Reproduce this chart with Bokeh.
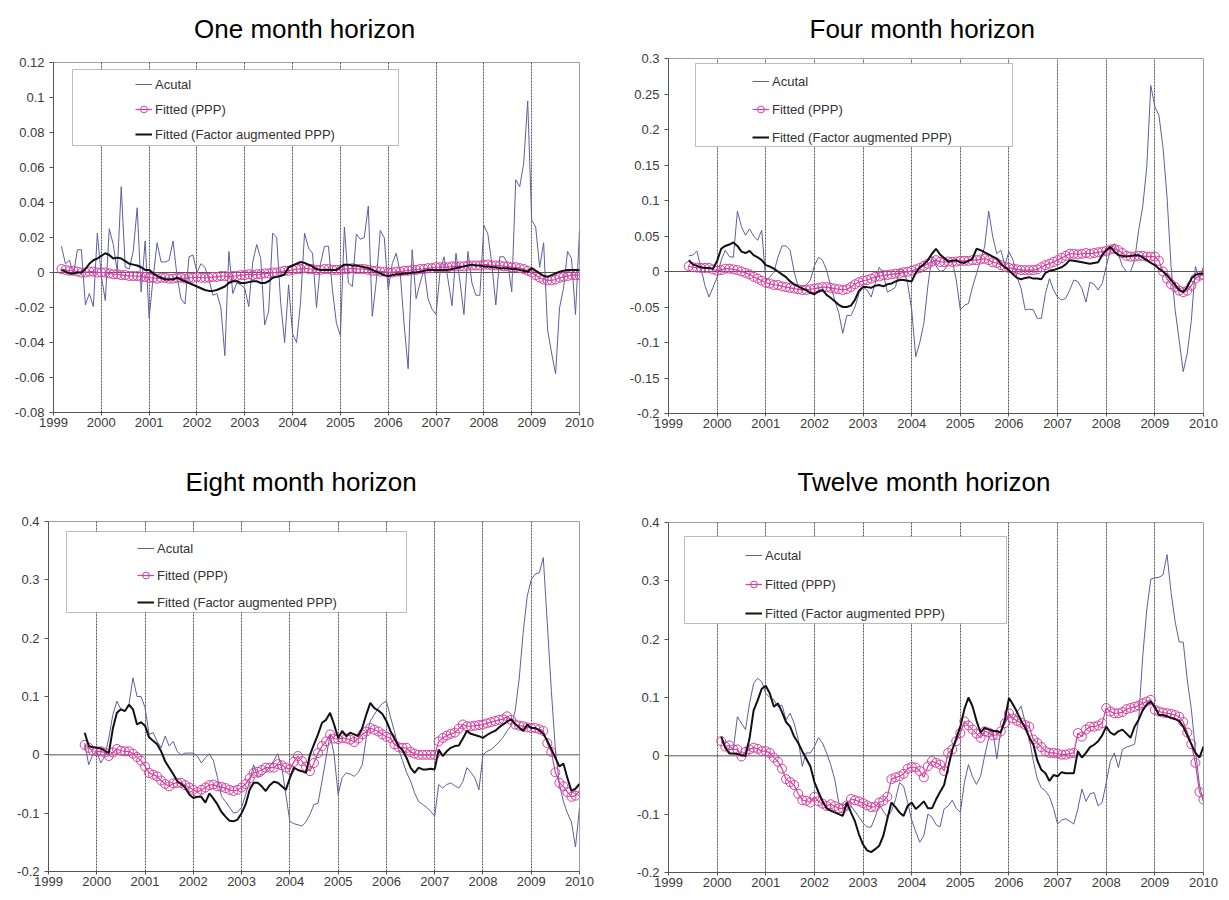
from bokeh.plotting import figure
from bokeh.models import (Range1d, FixedTicker, CustomJSTickFormatter, Span, Legend,
                          LegendItem, BoxAnnotation)
from bokeh.core.properties import value
from bokeh.layouts import column, row
from bokeh.embed import file_html
from bokeh.resources import INLINE

# ---------------- data ----------------
YEAR_TICKS = [1999, 2000, 2001, 2002, 2003, 2004, 2005, 2006, 2007, 2008, 2009, 2010]
GRID_YEARS = [2000, 2001, 2002, 2003, 2004, 2005, 2006, 2007, 2008, 2009, 2010]
SERIES_NAMES = ["Acutal", "Fitted (PPP)", "Fitted (Factor augmented PPP)"]
TITLES = ["One month horizon", "Four month horizon", "Eight month horizon", "Twelve month horizon"]

Y_TICKS_ONE = [-0.08, -0.06, -0.04, -0.02, 0, 0.02, 0.04, 0.06, 0.08, 0.1, 0.12]
Y_TICKS_FOUR = [-0.2, -0.15, -0.1, -0.05, 0, 0.05, 0.1, 0.15, 0.2, 0.25, 0.3]
Y_TICKS_EIGHT = [-0.2, -0.1, 0, 0.1, 0.2, 0.3, 0.4]
Y_TICKS_TWELVE = [-0.2, -0.1, 0, 0.1, 0.2, 0.3, 0.4]

# first month of each series, counted in months from January 1999
ONE_START = 2
FOUR_START = 5
EIGHT_START = 9
TWELVE_START = 13

ONE_ACTUAL = [
    0.015, 0.005, 0.007, -0.001, 0.013, 0.013, -0.0185, -0.012, -0.0195, 0.0225,
    -0.002, -0.016, 0.025, 0.016, 0.0005, 0.049, 0.003, 0.002, 0.012, 0.037,
    -0.011, 0.018, -0.026, -0.003, 0.017, 0.006, 0.006, 0.007, 0.018, -0.002,
    -0.015, -0.018, 0.009, 0.010, 0.0, 0.005, 0.003, -0.004, -0.013, -0.012,
    -0.020, -0.0475, 0.012, -0.012, -0.006, -0.007, -0.009, -0.0195, 0.006, 0.016,
    0.008, -0.030, -0.022, 0.0225, 0.020, -0.017, -0.040, -0.007, -0.035, -0.040,
    -0.017, 0.0225, 0.014, 0.011, -0.02, 0.005, 0.015, 0.015, -0.010, -0.029,
    -0.036, 0.026, -0.006, -0.008, 0.022, 0.019, 0.020, 0.038, -0.025, -0.005,
    0.024, 0.020, -0.010, 0.005, 0.011, 0.000, -0.030, -0.055, 0.013, -0.015,
    -0.006, 0.002, -0.015, -0.021, -0.024, 0.000, 0.009, -0.004, -0.019, 0.011,
    -0.005, -0.024, 0.012, -0.006, -0.013, -0.013, 0.027, 0.022, 0.005, -0.0185,
    0.009, 0.009, 0.005, -0.011, 0.053, 0.049, 0.0625, 0.098, 0.030, 0.026,
    0.003, 0.017, -0.033, -0.046, -0.058, -0.020, -0.009, 0.012, 0.008, -0.024, 0.024]
ONE_PPP = [
    0.002, 0.0015, 0.001, 0.001, 0.0005, 0.0, 0.0, 0.0005, 0.0005, 0.0,
    0.0, 0.0, -0.0005, -0.001, -0.001, -0.0015, -0.0015, -0.002, -0.002, -0.002,
    -0.0025, -0.0025, -0.003, -0.003, -0.0035, -0.003, -0.003, -0.0035, -0.0035, -0.003,
    -0.003, -0.0035, -0.003, -0.003, -0.0025, -0.003, -0.003, -0.003, -0.0025, -0.0025,
    -0.002, -0.002, -0.0025, -0.002, -0.002, -0.0015, -0.0015, -0.001, -0.0015, -0.001,
    -0.001, -0.0005, -0.0005, 0.0, 0.0, 0.0005, 0.001, 0.001, 0.0015, 0.002,
    0.002, 0.0025, 0.002, 0.002, 0.0015, 0.0015, 0.002, 0.002, 0.0015, 0.0015,
    0.0015, 0.002, 0.002, 0.0025, 0.002, 0.002, 0.002, 0.0015, 0.001, 0.001,
    0.0005, 0.0005, 0.0, 0.0, 0.0005, 0.0005, 0.001, 0.001, 0.0015, 0.0015,
    0.002, 0.002, 0.0025, 0.0025, 0.003, 0.003, 0.003, 0.003, 0.0035, 0.0035,
    0.0035, 0.0035, 0.004, 0.004, 0.004, 0.004, 0.0045, 0.0045, 0.004, 0.004,
    0.004, 0.0035, 0.0035, 0.003, 0.003, 0.0025, 0.002, 0.001, 0.0, -0.0015,
    -0.003, -0.004, -0.0045, -0.0045, -0.004, -0.003, -0.0025, -0.002, -0.0015, -0.0015, -0.0015]
ONE_FA = [
    0.0015, 0.0005, -0.0005, -0.0005, 0.0, 0.0, 0.002, 0.005, 0.007, 0.008,
    0.0095, 0.011, 0.010, 0.008, 0.0085, 0.008, 0.0065, 0.005, 0.0045, 0.004,
    0.003, 0.0015, 0.0015, -0.0005, -0.002, -0.003, -0.004, -0.004, -0.004, -0.003,
    -0.004, -0.005, -0.006, -0.007, -0.008, -0.009, -0.010, -0.0105, -0.0105, -0.010,
    -0.009, -0.008, -0.006, -0.005, -0.005, -0.006, -0.006, -0.0055, -0.005, -0.005,
    -0.006, -0.006, -0.005, -0.003, -0.0025, -0.002, -0.001, 0.003, 0.004, 0.005,
    0.006, 0.0055, 0.0045, 0.0035, 0.002, 0.0015, 0.0015, 0.0015, 0.0015, 0.0015,
    0.003, 0.0045, 0.0045, 0.004, 0.004, 0.0035, 0.003, 0.0025, 0.0015, 0.0005,
    -0.0005, -0.0015, -0.002, -0.0015, -0.001, -0.001, -0.0005, -0.0005, 0.0, 0.0,
    0.0005, 0.001, 0.0015, 0.0015, 0.0015, 0.0015, 0.0015, 0.0015, 0.002, 0.0025,
    0.003, 0.0035, 0.004, 0.0045, 0.004, 0.004, 0.0035, 0.0035, 0.003, 0.003,
    0.0025, 0.0025, 0.0025, 0.002, 0.002, 0.0015, 0.001, 0.0005, 0.0025, 0.001,
    -0.0005, -0.002, -0.0025, -0.0015, -0.0005, 0.0005, 0.001, 0.0015, 0.0015, 0.0015, 0.0015]

FOUR_ACTUAL = [
    0.022, 0.023, 0.029, 0.005, -0.020, -0.036, -0.022, -0.008, 0.016, 0.030,
    0.021, 0.020, 0.085, 0.063, 0.051, 0.060, 0.050, 0.044, 0.058, -0.012,
    -0.008, -0.001, 0.020, 0.036, 0.036, 0.030, 0.000, -0.022, -0.022, -0.019,
    -0.012, 0.008, 0.020, 0.016, 0.002, -0.020, -0.040, -0.058, -0.087, -0.062,
    -0.062, -0.050, -0.031, -0.022, -0.026, -0.036, -0.017, 0.006, -0.003, -0.029,
    -0.026, -0.022, 0.004, 0.002, -0.017, -0.054, -0.120, -0.100, -0.073, -0.020,
    0.021, 0.008, 0.000, 0.002, 0.010, 0.016, -0.012, -0.054, -0.048, -0.045,
    -0.022, -0.003, 0.016, 0.035, 0.085, 0.049, 0.025, 0.030, 0.009, 0.028,
    0.016, -0.008, -0.024, -0.054, -0.053, -0.054, -0.066, -0.066, -0.031, -0.010,
    -0.026, -0.036, -0.040, -0.038, -0.026, -0.012, -0.014, -0.024, -0.043, -0.015,
    -0.018, -0.026, -0.017, 0.007, 0.030, 0.039, 0.025, 0.007, 0.000, 0.000,
    0.016, 0.058, 0.091, 0.147, 0.262, 0.232, 0.220, 0.175, 0.105, 0.007,
    -0.054, -0.097, -0.141, -0.115, -0.069, 0.007, -0.010, 0.007]
FOUR_PPP = [
    0.0075, 0.006, 0.0055, 0.005, 0.005, 0.005, 0.003, 0.001, 0.002, 0.004,
    0.004, 0.003, 0.002, 0.0, -0.002, -0.004, -0.0075, -0.010, -0.013, -0.016,
    -0.017, -0.019, -0.019, -0.021, -0.022, -0.023, -0.024, -0.025, -0.026, -0.026,
    -0.025, -0.024, -0.023, -0.022, -0.022, -0.023, -0.024, -0.025, -0.026, -0.025,
    -0.022, -0.018, -0.015, -0.013, -0.012, -0.010, -0.0075, -0.007, -0.005, -0.005,
    -0.004, -0.003, -0.003, -0.001, -0.0005, 0.001, 0.003, 0.005, 0.008, 0.011,
    0.014, 0.016, 0.0135, 0.013, 0.014, 0.0135, 0.014, 0.015, 0.015, 0.015,
    0.016, 0.016, 0.017, 0.018, 0.016, 0.013, 0.012, 0.009, 0.0065, 0.005,
    0.004, 0.003, 0.002, 0.002, 0.002, 0.002, 0.003, 0.006, 0.009, 0.011,
    0.0135, 0.016, 0.019, 0.022, 0.025, 0.025, 0.024, 0.025, 0.026, 0.025,
    0.026, 0.027, 0.028, 0.029, 0.031, 0.032, 0.030, 0.026, 0.022, 0.021,
    0.021, 0.022, 0.022, 0.021, 0.021, 0.021, 0.015, 0.000, -0.010, -0.018,
    -0.022, -0.027, -0.029, -0.027, -0.020, -0.010, -0.006, -0.005]
FOUR_FA = [
    0.016, 0.010, 0.008, 0.006, 0.005, 0.005, 0.004, 0.015, 0.032, 0.036,
    0.038, 0.041, 0.036, 0.028, 0.026, 0.029, 0.023, 0.020, 0.016, 0.009,
    0.007, 0.004, 0.000, -0.004, -0.008, -0.014, -0.018, -0.021, -0.024, -0.026,
    -0.030, -0.032, -0.028, -0.026, -0.033, -0.037, -0.042, -0.047, -0.050, -0.050,
    -0.048, -0.040, -0.027, -0.022, -0.022, -0.023, -0.020, -0.019, -0.021, -0.018,
    -0.017, -0.014, -0.012, -0.012, -0.013, -0.014, -0.002, 0.006, 0.010, 0.016,
    0.025, 0.032, 0.024, 0.019, 0.014, 0.015, 0.016, 0.013, 0.012, 0.015,
    0.018, 0.032, 0.030, 0.027, 0.024, 0.021, 0.018, 0.011, 0.006, 0.002,
    -0.004, -0.009, -0.011, -0.009, -0.008, -0.010, -0.010, -0.011, -0.002, 0.001,
    0.002, 0.004, 0.006, 0.010, 0.016, 0.015, 0.014, 0.013, 0.012, 0.011,
    0.012, 0.013, 0.023, 0.030, 0.035, 0.028, 0.023, 0.022, 0.021, 0.022,
    0.023, 0.023, 0.020, 0.016, 0.012, 0.009, 0.004, 0.0, -0.005, -0.012,
    -0.019, -0.026, -0.029, -0.022, -0.010, -0.005, -0.003, -0.003]

EIGHT_ACTUAL = [
    0.020, -0.017, 0.000, 0.006, -0.014, -0.002, 0.029, 0.069, 0.092, 0.078,
    0.075, 0.086, 0.132, 0.100, 0.100, 0.081, 0.035, 0.038, 0.023, 0.012,
    0.032, 0.015, 0.023, 0.006, 0.000, 0.003, 0.003, 0.003, -0.002, -0.014,
    -0.005, 0.002, -0.010, -0.039, -0.071, -0.080, -0.090, -0.100, -0.098, -0.090,
    -0.068, -0.045, -0.017, -0.039, -0.036, -0.030, -0.020, -0.010, 0.002, -0.022,
    -0.068, -0.114, -0.118, -0.120, -0.122, -0.115, -0.102, -0.085, -0.083, -0.045,
    -0.005, 0.035, 0.000, -0.068, -0.039, -0.031, -0.033, -0.037, -0.030, -0.017,
    0.030, 0.058, 0.069, 0.080, 0.088, 0.092, 0.065, 0.040, 0.010, -0.010,
    -0.030, -0.045, -0.065, -0.080, -0.085, -0.090, -0.097, -0.105, -0.051, -0.057,
    -0.051, -0.048, -0.053, -0.057, -0.046, -0.022, -0.030, -0.040, -0.060, 0.000,
    0.006, 0.009, 0.015, 0.022, 0.030, 0.041, 0.050, 0.075, 0.130, 0.210,
    0.272, 0.300, 0.310, 0.312, 0.338, 0.225, 0.110, 0.010, -0.050, -0.080,
    -0.100, -0.115, -0.158, -0.091]
EIGHT_PPP = [
    0.017, 0.012, 0.007, 0.006, 0.006, 0.004, -0.002, 0.004, 0.010, 0.007,
    0.006, 0.006, 0.002, -0.004, -0.010, -0.020, -0.031, -0.034, -0.037, -0.044,
    -0.050, -0.054, -0.049, -0.048, -0.048, -0.052, -0.056, -0.060, -0.064, -0.060,
    -0.056, -0.052, -0.051, -0.054, -0.055, -0.057, -0.060, -0.062, -0.060, -0.056,
    -0.050, -0.040, -0.031, -0.029, -0.026, -0.022, -0.022, -0.022, -0.016, -0.018,
    -0.022, -0.025, -0.012, -0.002, -0.011, -0.020, -0.028, -0.014, 0.003, 0.015,
    0.023, 0.035, 0.028, 0.027, 0.029, 0.028, 0.026, 0.022, 0.028, 0.035,
    0.040, 0.046, 0.043, 0.040, 0.035, 0.031, 0.029, 0.018, 0.013, 0.012,
    0.012, 0.005, 0.002, 0.000, 0.000, 0.000, 0.000, 0.000, 0.023, 0.029,
    0.033, 0.036, 0.038, 0.045, 0.052, 0.049, 0.049, 0.050, 0.051, 0.052,
    0.054, 0.056, 0.058, 0.060, 0.061, 0.066, 0.060, 0.052, 0.050, 0.049,
    0.047, 0.046, 0.046, 0.044, 0.041, 0.020, 0.005, -0.030, -0.048, -0.054,
    -0.064, -0.072, -0.070, -0.062]
EIGHT_FA = [
    0.038, 0.015, 0.013, 0.012, 0.011, 0.007, 0.003, 0.045, 0.072, 0.078,
    0.075, 0.086, 0.078, 0.052, 0.056, 0.050, 0.030, 0.024, 0.018, 0.006,
    -0.011, -0.022, -0.033, -0.045, -0.050, -0.056, -0.068, -0.074, -0.072, -0.072,
    -0.082, -0.066, -0.075, -0.085, -0.098, -0.106, -0.113, -0.114, -0.111, -0.100,
    -0.085, -0.060, -0.048, -0.048, -0.054, -0.062, -0.052, -0.046, -0.048, -0.054,
    -0.060, -0.040, -0.022, -0.026, -0.028, -0.031, 0.000, 0.018, 0.035, 0.055,
    0.060, 0.072, 0.052, 0.029, 0.041, 0.032, 0.038, 0.035, 0.032, 0.046,
    0.069, 0.089, 0.080, 0.076, 0.070, 0.058, 0.041, 0.028, 0.015, 0.008,
    -0.005, -0.022, -0.031, -0.022, -0.025, -0.025, -0.024, -0.025, 0.009, -0.002,
    0.006, 0.012, 0.015, 0.016, 0.028, 0.041, 0.036, 0.034, 0.032, 0.029,
    0.034, 0.038, 0.041, 0.047, 0.052, 0.057, 0.061, 0.053, 0.047, 0.041,
    0.052, 0.046, 0.046, 0.042, 0.036, 0.024, 0.010, -0.005, -0.020, -0.015,
    -0.040, -0.062, -0.058, -0.050]

TWELVE_ACTUAL = [
    0.031, 0.016, 0.011, 0.011, 0.067, 0.056, 0.045, 0.090, 0.124, 0.133,
    0.127, 0.107, 0.100, 0.096, 0.084, 0.087, 0.062, 0.073, 0.056, 0.028,
    -0.018, 0.005, 0.005, 0.016, 0.031, 0.022, 0.005, -0.015, -0.040, -0.080,
    -0.086, -0.080, -0.086, -0.095, -0.105, -0.115, -0.122, -0.122, -0.105, -0.083,
    -0.095, -0.105, -0.095, -0.075, -0.046, -0.052, -0.080, -0.110, -0.130, -0.148,
    -0.137, -0.100, -0.105, -0.118, -0.122, -0.091, -0.086, -0.076, -0.090, -0.097,
    -0.046, -0.015, -0.036, -0.049, -0.035, 0.000, 0.030, 0.045, -0.005, 0.045,
    0.055, 0.070, 0.062, 0.075, 0.085, 0.058, 0.030, -0.008, -0.040, -0.055,
    -0.060, -0.070, -0.090, -0.117, -0.110, -0.108, -0.112, -0.117, -0.091, -0.057,
    -0.078, -0.065, -0.063, -0.086, -0.080, -0.046, -0.010, 0.005, -0.020, 0.011,
    0.015, 0.017, 0.020, 0.062, 0.170, 0.250, 0.303, 0.305, 0.306, 0.310,
    0.345, 0.280, 0.230, 0.195, 0.195, 0.130, 0.080, 0.010, -0.050, -0.080]
TWELVE_PPP = [
    0.025, 0.016, 0.018, 0.011, 0.011, -0.001, 0.007, 0.011, 0.014, 0.012,
    0.008, 0.008, 0.005, -0.003, -0.010, -0.022, -0.040, -0.045, -0.050, -0.065,
    -0.076, -0.077, -0.080, -0.070, -0.078, -0.082, -0.086, -0.083, -0.086, -0.090,
    -0.090, -0.085, -0.074, -0.076, -0.078, -0.081, -0.085, -0.088, -0.087, -0.080,
    -0.077, -0.070, -0.040, -0.037, -0.035, -0.031, -0.022, -0.019, -0.020, -0.026,
    -0.037, -0.018, -0.009, -0.012, -0.015, -0.026, 0.005, 0.011, 0.025, 0.039,
    0.059, 0.052, 0.045, 0.038, 0.031, 0.042, 0.040, 0.035, 0.036, 0.042,
    0.056, 0.073, 0.064, 0.060, 0.057, 0.053, 0.050, 0.028, 0.022, 0.015,
    0.008, 0.005, 0.005, 0.004, 0.002, 0.002, 0.004, 0.005, 0.039, 0.033,
    0.045, 0.050, 0.050, 0.052, 0.056, 0.082, 0.076, 0.073, 0.073, 0.075,
    0.080, 0.082, 0.084, 0.086, 0.090, 0.093, 0.096, 0.079, 0.076, 0.074,
    0.073, 0.072, 0.070, 0.067, 0.058, 0.040, 0.020, -0.012, -0.062, -0.075]
TWELVE_FA = [
    0.033, 0.014, 0.004, 0.004, 0.003, 0.001, 0.000, 0.030, 0.078, 0.095,
    0.115, 0.120, 0.107, 0.084, 0.090, 0.075, 0.058, 0.050, 0.033, 0.022,
    0.008, -0.005, -0.018, -0.045, -0.062, -0.078, -0.090, -0.094, -0.097, -0.100,
    -0.103, -0.080, -0.097, -0.112, -0.135, -0.152, -0.162, -0.165, -0.160, -0.154,
    -0.137, -0.108, -0.080, -0.088, -0.097, -0.103, -0.086, -0.080, -0.091, -0.085,
    -0.078, -0.090, -0.090, -0.075, -0.062, -0.050, -0.020, 0.010, 0.030, 0.050,
    0.080, 0.100, 0.085, 0.060, 0.040, 0.048, 0.045, 0.043, 0.042, 0.040,
    0.062, 0.099, 0.088, 0.075, 0.060, 0.048, 0.032, 0.020, -0.008, -0.024,
    -0.030, -0.043, -0.033, -0.035, -0.028, -0.030, -0.030, -0.030, 0.008, -0.003,
    0.005, 0.015, 0.019, 0.025, 0.035, 0.050, 0.040, 0.036, 0.042, 0.045,
    0.038, 0.031, 0.050, 0.062, 0.078, 0.088, 0.093, 0.084, 0.070, 0.070,
    0.068, 0.065, 0.063, 0.060, 0.050, 0.035, 0.020, 0.005, -0.003, 0.016]

# ---------------- styling ----------------
C_ACTUAL = "#5e5ea2"
C_PPP = "#d63f9f"
C_FA = "#111111"
FONT = "Liberation Sans"


def months_to_x(start, n):
    return [1999 + (start + k) / 12.0 for k in range(n)]


def make_title(text, w, h, cx, baseline_from_top):
    t = figure(width=w, height=h, output_backend="svg", toolbar_location=None,
               x_range=Range1d(0, w), y_range=Range1d(0, h),
               x_axis_location=None, y_axis_location=None,
               min_border_left=0, min_border_right=0, min_border_top=0, min_border_bottom=0,
               outline_line_color=None, background_fill_color="white",
               border_fill_color="white")
    t.xgrid.visible = False
    t.ygrid.visible = False
    t.text(x=[cx], y=[h - baseline_from_top], text=[text], text_align="center",
           text_baseline="alphabetic", text_font=value(FONT),
           text_font_size=value("26px"), text_color="#000000")
    return t


def make_panel(start, actual, ppp, fa, y_lo, y_hi, y_ticks,
               w, h, bl, br, bt, bb, leg_loc, leg_spacing, box):
    p = figure(width=w, height=h, output_backend="svg", toolbar_location=None,
               x_range=Range1d(1999, 2010), y_range=Range1d(y_lo, y_hi),
               min_border_left=bl, min_border_right=br, min_border_top=bt,
               min_border_bottom=bb, background_fill_color="white",
               border_fill_color="white")

    p.outline_line_color = "#a0a0a0"
    p.outline_line_width = 1

    p.ygrid.visible = False
    p.xgrid.ticker = FixedTicker(ticks=GRID_YEARS)
    p.xgrid.grid_line_color = "#555555"
    p.xgrid.grid_line_dash = "2 1"
    p.xgrid.grid_line_width = 1

    for ax in (p.xaxis[0], p.yaxis[0]):
        ax.axis_line_color = "#555555"
        ax.major_tick_line_color = "#555555"
        ax.minor_tick_line_color = None
        ax.major_tick_in = 0
        ax.major_label_text_font = FONT
        ax.major_label_text_font_size = "13px"
        ax.major_label_text_color = "#3a3a3a"
    p.xaxis.ticker = FixedTicker(ticks=YEAR_TICKS)
    p.xaxis.formatter = CustomJSTickFormatter(code="return tick.toFixed(0);")
    p.xaxis.major_tick_out = 3
    p.xaxis.major_label_standoff = 2
    p.yaxis.ticker = FixedTicker(ticks=y_ticks)
    p.yaxis.formatter = CustomJSTickFormatter(code="return Number(tick.toFixed(3)).toString();")
    p.yaxis.major_tick_out = 4
    p.yaxis.major_label_standoff = 5

    p.add_layout(Span(location=0, dimension="width", line_color="#555555",
                      line_width=1, level="underlay"))

    xa = months_to_x(start, len(actual))
    xp = months_to_x(start, len(ppp))
    xf = months_to_x(start, len(fa))
    r_act = p.line(xa, actual, line_color=C_ACTUAL, line_width=1)
    r_pl = p.line(xp, ppp, line_color=C_PPP, line_width=1.2)
    r_pc = p.scatter(xp, ppp, marker="circle", size=9, line_color=C_PPP,
                     line_width=1, fill_color=None)
    r_fa = p.line(xf, fa, line_color=C_FA, line_width=2)

    bx = BoxAnnotation(left=box[0], right=box[1], top=box[2], bottom=box[3],
                       left_units="canvas", right_units="canvas",
                       top_units="canvas", bottom_units="canvas",
                       fill_color="white", fill_alpha=1.0,
                       line_color="#222222", line_width=1)
    p.add_layout(bx)

    legend = Legend(items=[
        LegendItem(label=SERIES_NAMES[0], renderers=[r_act]),
        LegendItem(label=SERIES_NAMES[1], renderers=[r_pl, r_pc]),
        LegendItem(label=SERIES_NAMES[2], renderers=[r_fa]),
    ], location=leg_loc, padding=0, margin=0, spacing=leg_spacing,
        glyph_height=20, label_height=20, glyph_width=17, label_standoff=3,
        border_line_alpha=0, background_fill_alpha=0,
        label_text_font=FONT, label_text_font_size="13px",
        label_text_color="#333333")
    p.add_layout(legend)
    return p


t1 = make_title(TITLES[0], 618, 44, 295, 28)
t2 = make_title(TITLES[1], 603, 44, 286, 28)
t3 = make_title(TITLES[2], 618, 66, 294, 47)
t4 = make_title(TITLES[3], 603, 66, 288, 47)

p1 = make_panel(ONE_START, ONE_ACTUAL, ONE_PPP, ONE_FA, -0.08, 0.12, Y_TICKS_ONE,
                618, 390, 53, 39, 18, 22, (82, 268), 5, (72, 398, 25, 101))
p2 = make_panel(FOUR_START, FOUR_ACTUAL, FOUR_PPP, FOUR_FA, -0.2, 0.3, Y_TICKS_FOUR,
                603, 390, 50, 18, 14, 21, (84, 266), 8, (77, 394, 19, 102))
p3 = make_panel(EIGHT_START, EIGHT_ACTUAL, EIGHT_PPP, EIGHT_FA, -0.2, 0.4, Y_TICKS_EIGHT,
                618, 392, 48, 39, 21, 21, (89, 259), 7, (66, 406, 31, 112))
p4 = make_panel(TWELVE_START, TWELVE_ACTUAL, TWELVE_PPP, TWELVE_FA, -0.2, 0.4, Y_TICKS_TWELVE,
                603, 392, 50, 18, 22, 20, (77, 249), 9, (66, 388, 36, 123))

layout = column(
    row(column(t1, p1, spacing=0), column(t2, p2, spacing=0), spacing=0),
    row(column(t3, p3, spacing=0), column(t4, p4, spacing=0), spacing=0),
    spacing=0)
open("out.html", "w").write(file_html(layout, INLINE))
